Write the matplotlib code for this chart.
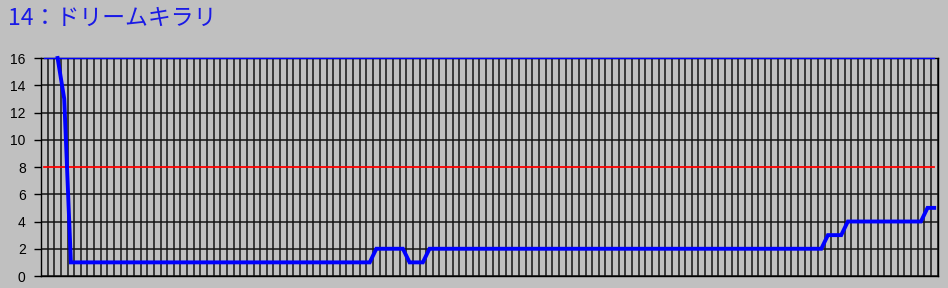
import numpy as np
import matplotlib
matplotlib.use("Agg")
import matplotlib.pyplot as plt

# ---- data ----
title_text = "14：ドリームキラリ"
n_points = 135
positions = list(range(n_points))
rank = [
    None, None, 16, 13, 1, 1, 1, 1, 1, 1, 1, 1, 1, 1, 1,
    1, 1, 1, 1, 1, 1, 1, 1, 1, 1, 1, 1, 1, 1, 1,
    1, 1, 1, 1, 1, 1, 1, 1, 1, 1, 1, 1, 1, 1, 1,
    1, 1, 1, 1, 1, 2, 2, 2, 2, 2, 1, 1, 1, 2, 2,
    2, 2, 2, 2, 2, 2, 2, 2, 2, 2, 2, 2, 2, 2, 2,
    2, 2, 2, 2, 2, 2, 2, 2, 2, 2, 2, 2, 2, 2, 2,
    2, 2, 2, 2, 2, 2, 2, 2, 2, 2, 2, 2, 2, 2, 2,
    2, 2, 2, 2, 2, 2, 2, 2, 2, 2, 2, 2, 2, 3, 3,
    3, 4, 4, 4, 4, 4, 4, 4, 4, 4, 4, 4, 4, 5, 5,
]
field_size = 16
half_line = 8
y_ticks = [0, 2, 4, 6, 8, 10, 12, 14, 16]

# ---- figure ----
W, H = 948, 288
fig = plt.figure(figsize=(W / 100, H / 100), dpi=100, facecolor="#C0C0C0")
left, right, top, bottom = 41, 937.5, 58, 276
ax = fig.add_axes([left / W, 1 - bottom / H, (right - left) / W, (bottom - top) / H])
ax.set_facecolor("#C0C0C0")

x = np.array(positions, dtype=float)
y = np.array([np.nan if v is None else v for v in rank], dtype=float)

ax.set_xlim(-0.5, n_points - 0.5)
ax.set_ylim(0, 16)

# gridlines
ax.set_xticks(np.arange(-0.5, n_points, 1.0))
ax.set_xticklabels([])
ax.tick_params(axis="x", length=0)
ax.set_yticks(y_ticks)
ax.set_yticklabels([str(t) for t in y_ticks], fontsize=10, family=["Liberation Sans", "DejaVu Sans"])
ax.tick_params(axis="y", length=5, width=1, color="black", pad=6, labelcolor="black")
ax.grid(True, color="#141414", linewidth=1.1)
ax.set_axisbelow(True)
for t, gl in zip(y_ticks, ax.get_ygridlines()):
    if t == half_line:
        gl.set_visible(False)
for s in ax.spines.values():
    s.set_color("black")
    s.set_linewidth(1.0)

ax.plot(x, [field_size] * n_points, color="#0000FF", linewidth=1.0, clip_on=False,
        zorder=3, snap=True)
ax.plot(x, [half_line] * n_points, color="#FF0000", linewidth=1.3, clip_on=False,
        zorder=3, snap=True)
ax.plot(x, y, color="#0000FF", linewidth=2.8, clip_on=False, zorder=4,
        solid_joinstyle="miter")

fig.text(8 / W, 1 - 18 / H, title_text, color="#1A1AE6", fontsize=16.5,
         family=["Noto Sans CJK JP", "DejaVu Sans"], va="center", ha="left")

fig.savefig("out.png", dpi=100, facecolor=fig.get_facecolor())
